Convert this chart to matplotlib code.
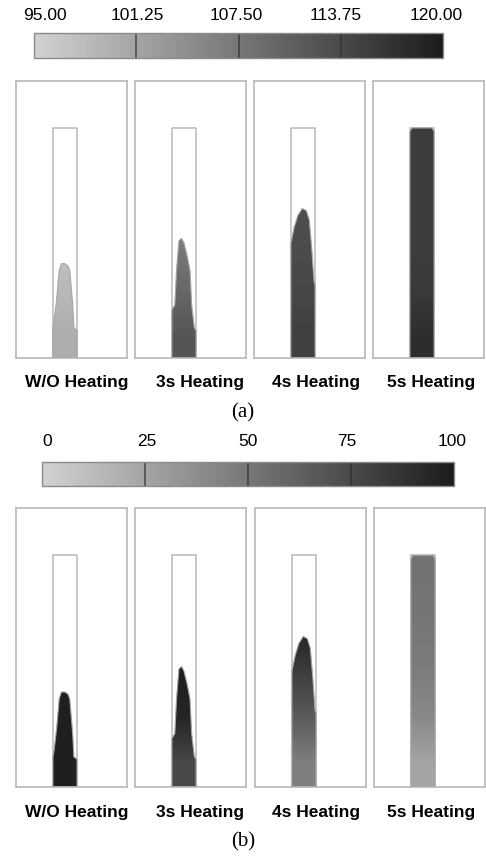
import numpy as np
import matplotlib
matplotlib.use('Agg')
import matplotlib.pyplot as plt
import matplotlib.transforms as mtransforms
from matplotlib.colors import LinearSegmentedColormap, Normalize
from matplotlib.cm import ScalarMappable
from matplotlib.patches import Polygon

plt.rcParams['font.family'] = ['Liberation Sans', 'DejaVu Sans']

cases = ['W/O Heating', '3s Heating', '4s Heating', '5s Heating']

# flow front: x across channel (fraction of width), h along channel (fraction of length)
front_x = [
    [0.00, 0.05, 0.15, 0.26, 0.35, 0.50, 0.63, 0.70, 0.82, 0.87, 1.00],
    [0.00, 0.12, 0.19, 0.29, 0.40, 0.50, 0.64, 0.75, 0.82, 0.93, 1.00],
    [0.00, 0.14, 0.29, 0.47, 0.64, 0.76, 0.86, 0.96, 1.00],
    [0.00, 0.08, 0.92, 1.00],
]
front_h = [
    [0.13, 0.16, 0.25, 0.38, 0.41, 0.41, 0.40, 0.38, 0.23, 0.13, 0.12],
    [0.21, 0.23, 0.38, 0.51, 0.52, 0.50, 0.44, 0.38, 0.23, 0.13, 0.12],
    [0.50, 0.57, 0.62, 0.65, 0.64, 0.60, 0.48, 0.33, 0.32],
    [0.985, 1.00, 1.00, 0.985],
]

# field values at stations along the channel (bottom -> top)
station_h = [0.0, 0.25, 0.5, 0.75, 1.0]
temp_vals = [
    [100.0, 98.5, 97.0, 97.0, 97.0],
    [112.0, 109.5, 107.0, 107.0, 107.0],
    [115.0, 114.0, 113.3, 113.0, 113.0],
    [117.5, 115.8, 115.5, 115.5, 115.6],
]
cure_vals = [
    [98, 98, 98, 98, 98],
    [75, 95, 98, 99, 99],
    [45, 65, 82, 97, 97],
    [25, 40, 47, 50, 52],
]

temp_ticks = [95.00, 101.25, 107.50, 113.75, 120.00]
temp_labels = ['95.00', '101.25', '107.50', '113.75', '120.00']
cure_ticks = [0, 25, 50, 75, 100]
cure_labels = ['0', '25', '50', '75', '100']

cmap = LinearSegmentedColormap.from_list('grey', ['#d2d2d2', '#1c1c1c'])

# geometry of the mould (panel units)
PW, PH = 4.6, 11.5
CH_X0, CH_W, CH_H = 1.53, 1.0, 9.55

W, H = 486, 859
fig = plt.figure(figsize=(W / 100, H / 100), dpi=100)


def px_axes(l, t, w, h):
    return fig.add_axes([l / W, 1 - (t + h) / H, w / W, h / H])


def draw_panel(ax, k, vals, vmin, vmax):
    xs = CH_X0 + CH_W * np.array(front_x[k])
    ys = CH_H * np.array(front_h[k])
    verts = [(CH_X0, 0)] + list(zip(xs, ys)) + [(CH_X0 + CH_W, 0)]
    poly = Polygon(verts, closed=True, fc='none', ec='#a5a5a5', lw=0.8, zorder=3)
    ax.add_patch(poly)
    field = np.tile(np.array(vals[k], dtype=float)[:, None], (1, 2))
    im = ax.imshow(field, cmap=cmap, vmin=vmin, vmax=vmax, origin='lower',
                   extent=(CH_X0, CH_X0 + CH_W, 0, CH_H), aspect='auto',
                   interpolation='bilinear', zorder=2)
    im.set_clip_path(poly)
    ax.plot([CH_X0, CH_X0, CH_X0 + CH_W, CH_X0 + CH_W], [0, CH_H, CH_H, 0],
            color='#bdbdbd', lw=1.2, zorder=1)
    ax.set_xlim(0, PW)
    ax.set_ylim(0, PH)
    ax.set_xticks([])
    ax.set_yticks([])
    for s in ax.spines.values():
        s.set_color('#bdbdbd')
        s.set_linewidth(1.3)


def draw_colorbar(box, ticks, labels, dx, pad_px):
    cax = px_axes(*box)
    norm = Normalize(ticks[0], ticks[-1])
    cb = fig.colorbar(ScalarMappable(norm=norm, cmap=cmap), cax=cax, orientation='horizontal')
    cb.set_ticks([])
    cb.outline.set_edgecolor('#8a8a8a')
    cb.outline.set_linewidth(1.0)
    for v in ticks[1:-1]:
        cax.axvline(v, color='#2e2e2e', lw=1.1, alpha=0.8)
    base = mtransforms.blended_transform_factory(cax.transData, cax.transAxes)
    for v, lab, d in zip(ticks, labels, dx):
        tr = mtransforms.offset_copy(base, fig=fig, x=d, y=pad_px, units='dots')
        cax.text(v, 1.0, lab, transform=tr, ha='center', va='bottom', fontsize=12.5)


# (a) temperature
draw_colorbar((34, 33, 409, 25), temp_ticks, temp_labels, [11, 1, -2, -5, -7], 10)
for k, left in enumerate([16, 135, 254, 373]):
    ax = px_axes(left, 81, 111, 277)
    draw_panel(ax, k, temp_vals, temp_ticks[0], temp_ticks[-1])

# (b) degree of cure
draw_colorbar((42, 462, 412, 24), cure_ticks, cure_labels, [5, 2, 0, -4, -2], 13)
for k, left in enumerate([16, 135, 255, 374]):
    ax = px_axes(left, 508, 111, 279)
    draw_panel(ax, k, cure_vals, cure_ticks[0], cure_ticks[-1])

label_x = [77, 200, 316, 431]
for x, lab in zip(label_x, cases):
    fig.text(x / W, 1 - 383 / H, lab, ha='center', va='center', fontsize=12.5, weight='bold')
    fig.text(x / W, 1 - 813 / H, lab, ha='center', va='center', fontsize=12.5, weight='bold')

fig.text(243 / W, 1 - 413 / H, '(a)', ha='center', va='center', fontsize=15, family='Liberation Serif')
fig.text(243 / W, 1 - 842 / H, '(b)', ha='center', va='center', fontsize=15, family='Liberation Serif')

fig.savefig('out.png', dpi=100)
